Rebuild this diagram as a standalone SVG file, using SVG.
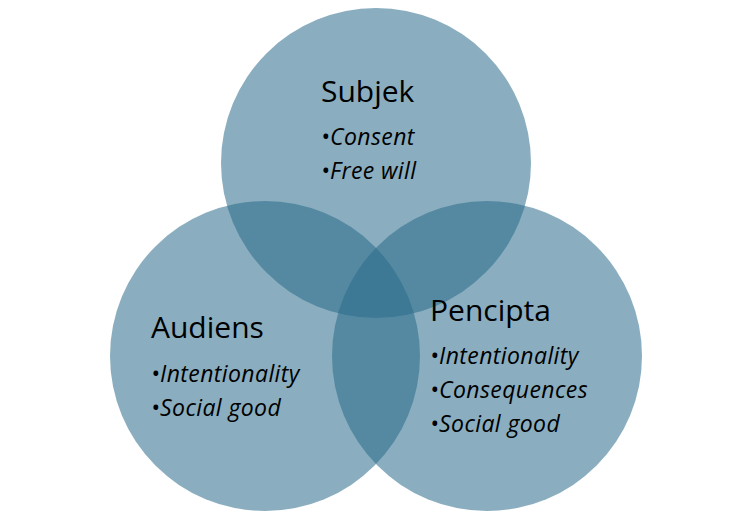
<svg xmlns="http://www.w3.org/2000/svg" width="754" height="522" viewBox="0 0 754 522">
<style>
.c{fill:#2a6c8b;fill-opacity:0.55}
.t{font-family:"Open Sans","Liberation Sans",sans-serif;fill:#000}
.h{font-size:30px}
.b{font-size:23px;font-style:italic;letter-spacing:0.4px}
</style>
<rect width="754" height="522" fill="#fff"/>
<g id="subjek">
<circle class="c" cx="376" cy="163" r="155"/>
<text class="t h" x="321" y="102">Subjek</text>
<text class="t b" x="321" y="145">•Consent</text>
<text class="t b" x="321" y="179">•Free will</text>
</g>
<g id="audiens">
<circle class="c" cx="265" cy="356" r="155"/>
<text class="t h" x="151" y="338">Audiens</text>
<text class="t b" x="151" y="382">•Intentionality</text>
<text class="t b" x="151" y="416">•Social good</text>
</g>
<g id="pencipta">
<circle class="c" cx="487" cy="356" r="155"/>
<text class="t h" x="430" y="321">Pencipta</text>
<text class="t b" x="430" y="364">•Intentionality</text>
<text class="t b" x="430" y="398">•Consequences</text>
<text class="t b" x="430" y="432">•Social good</text>
</g>
<g id="connectors"/>
</svg>
